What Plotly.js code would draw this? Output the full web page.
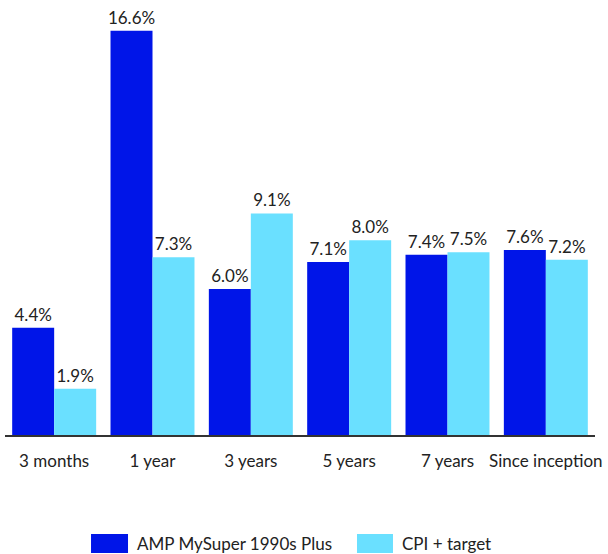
<!DOCTYPE html>
<html>
<head>
<meta charset="utf-8">
<script src="https://cdn.plot.ly/plotly-3.0.1.min.js"></script>
<style>html,body{margin:0;padding:0;background:#fff;}#chart{width:608px;height:554px;}</style>
</head>
<body>
<div id="chart"></div>
<script>
const categories = ["3 months", "1 year", "3 years", "5 years", "7 years", "Since inception"];
const seriesNames = ["AMP MySuper 1990s Plus", "CPI + target"];
const fundValues = [4.4, 16.6, 6.0, 7.1, 7.4, 7.6];
const cpiValues = [1.9, 7.3, 9.1, 8.0, 7.5, 7.2];
const colors = ["#0015e8", "#6ae0ff"];

const fontFam = "Lato, 'Open Sans', sans-serif";
function mk(name, vals, color) {
  return {
    type: "bar", name: name, x: categories, y: vals,
    marker: {color: color},
    text: vals.map(v => v.toFixed(1) + "%"),
    textposition: "outside", cliponaxis: false, constraintext: "none",
    textfont: {family: fontFam, size: 17, color: "#222"},
    hoverinfo: "none", showlegend: false
  };
}
const data = [mk(seriesNames[0], fundValues, colors[0]), mk(seriesNames[1], cpiValues, colors[1])];

// custom legend (large swatches as in the reference)
const legendItems = [
  {sx0: 0.1458, sx1: 0.2085, tx: 0.2203},
  {sx0: 0.5966, sx1: 0.6576, tx: 0.6695}
];
const shapes = legendItems.map((it, i) => ({
  type: "rect", xref: "paper", yref: "paper",
  x0: it.sx0, x1: it.sx1, y0: -0.2391, y1: -0.2850,
  fillcolor: colors[i], line: {width: 0}
}));
const annotations = legendItems.map((it, i) => ({
  xref: "paper", yref: "paper", x: it.tx, y: -0.2609,
  xanchor: "left", yanchor: "middle", showarrow: false,
  text: seriesNames[i], font: {family: fontFam, size: 17, color: "#222"}
}));

const layout = {
  width: 608, height: 554,
  margin: {l: 5, r: 13, t: 21, b: 119},
  barmode: "group", bargap: 0.146, bargroupgap: 0,
  paper_bgcolor: "#fff", plot_bgcolor: "#fff",
  font: {family: fontFam, size: 17, color: "#222"},
  xaxis: {showline: true, linecolor: "#333", linewidth: 2, ticks: "", ticklabelstandoff: 10,
          tickfont: {size: 17, color: "#222"}, fixedrange: true},
  yaxis: {range: [0, 17], visible: false, showgrid: false, zeroline: false, fixedrange: true},
  showlegend: false,
  shapes: shapes,
  annotations: annotations
};
Plotly.newPlot("chart", data, layout, {displayModeBar: false, staticPlot: true});
</script>
</body>
</html>
